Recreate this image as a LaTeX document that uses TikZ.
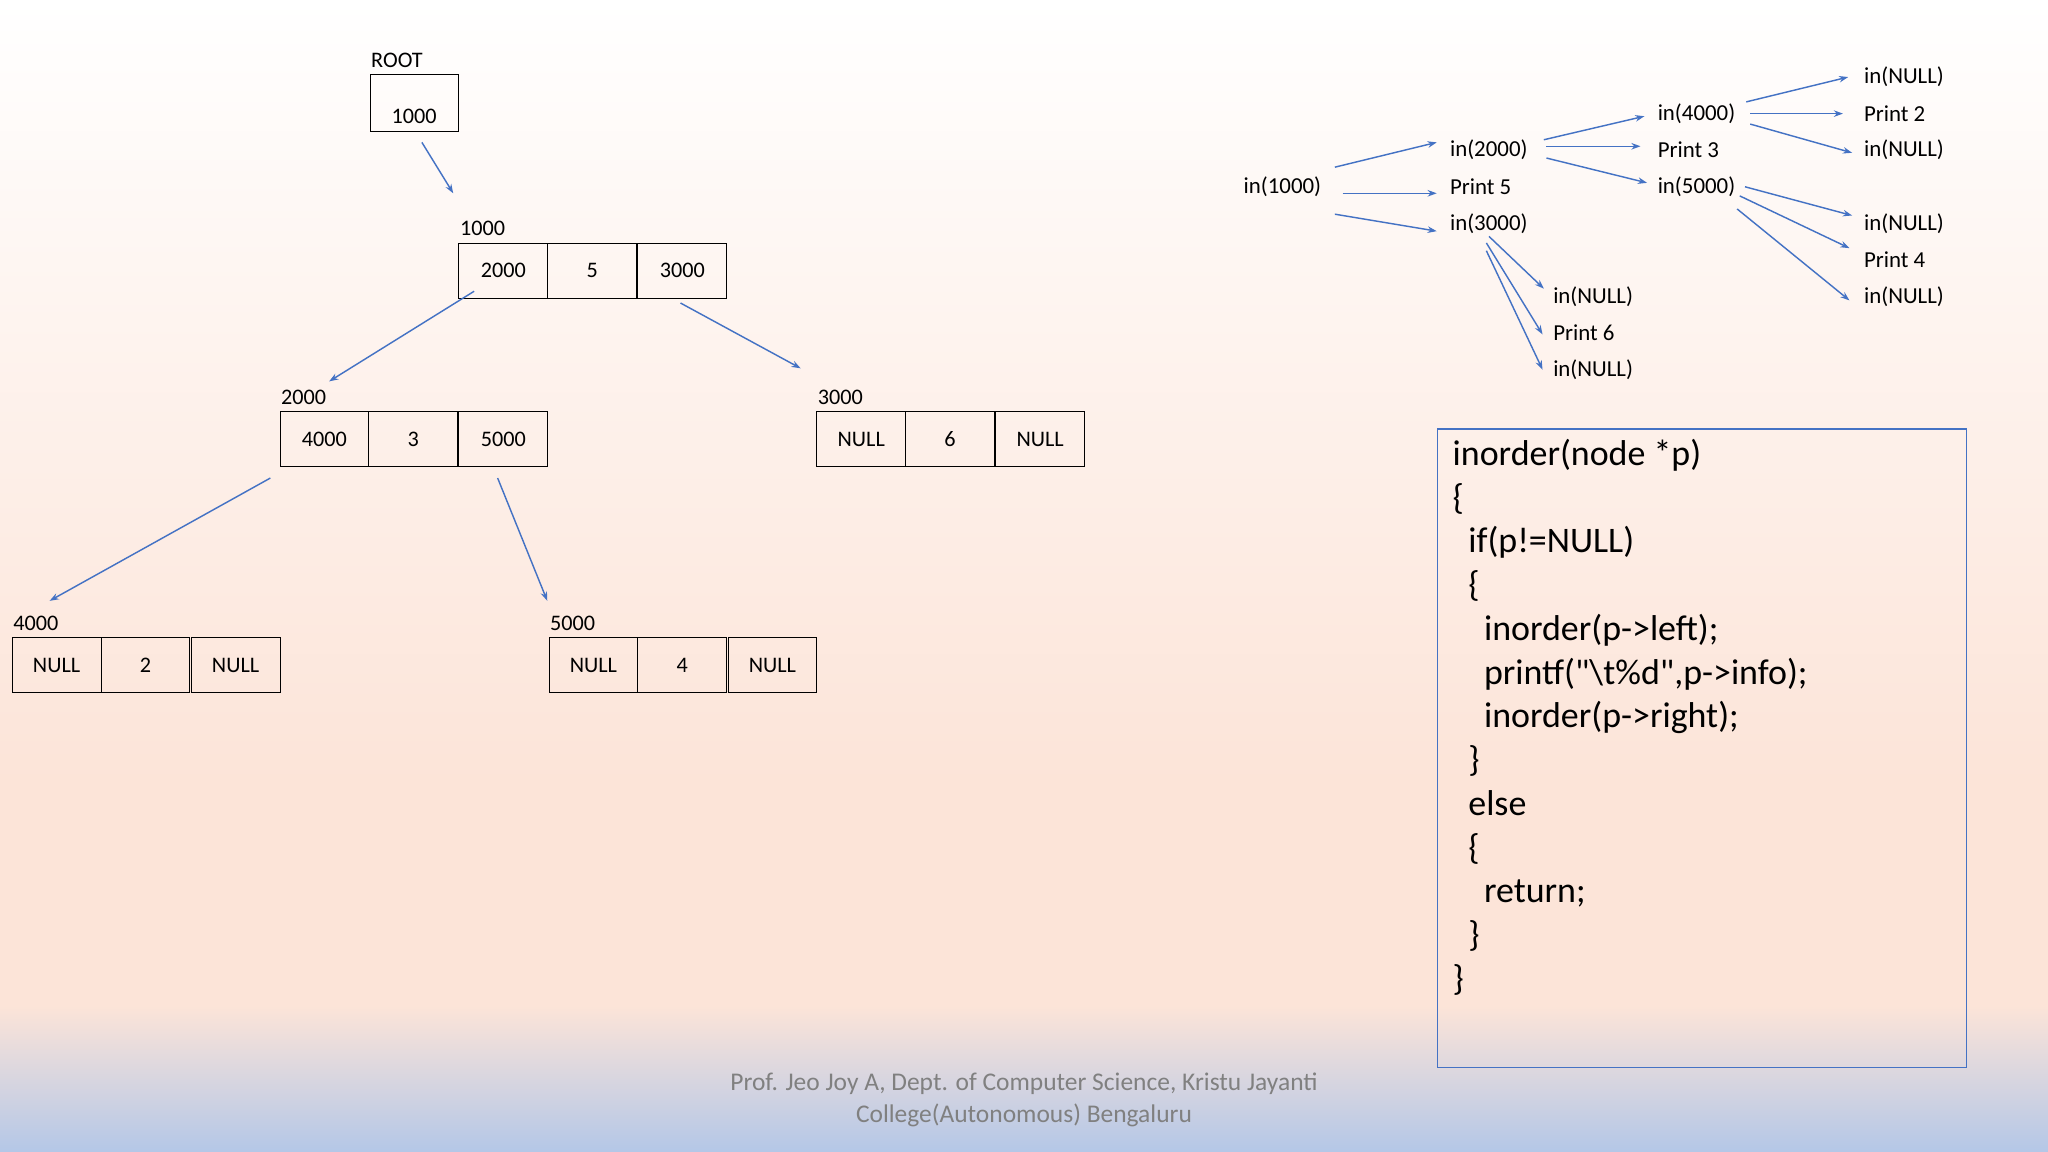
\documentclass[tikz,border=0pt]{standalone}
\usepackage{fontspec}
\setmainfont{Carlito}
\newfontfamily\codefont{Carlito}[Ligatures=TeXOff]
\usetikzlibrary{arrows.meta}
\definecolor{ab}{HTML}{4472C4}
\definecolor{peach}{HTML}{FCE4D8}
\definecolor{bl}{HTML}{B4C7E7}
\begin{document}
\begin{tikzpicture}[x=1pt,y=-1pt,
 arr/.style={ab,line width=1.1pt,-{Stealth[length=7pt,width=5pt]}},
 cell/.style={draw,line width=0.7pt,minimum width=68pt,minimum height=42pt,inner sep=0pt,font=\fontsize{17}{19}\selectfont,anchor=north west},
 lab/.style={anchor=west,inner sep=0pt,font=\fontsize{17}{19}\selectfont},
 tl/.style={anchor=west,inner sep=0pt,font=\fontsize{17.5}{19}\selectfont}]
\useasboundingbox (0,0) rectangle (1568,882);
\shade[top color=white,bottom color=peach] (0,0) rectangle (1568,600);
\fill[peach] (0,600) rectangle (1568,770);
\shade[top color=peach,bottom color=bl] (0,770) rectangle (1568,882);
% root
\node[lab] (rl) at (284,46) {ROOT};
\node[draw,line width=0.7pt,minimum width=68pt,minimum height=43pt,anchor=north west,inner sep=0pt] (root) at (283,57) {};
\node[font=\fontsize{17}{19}\selectfont] (rv) at (317,89) {1000};
% tree nodes
\newcommand{\tnode}[6]{%
 \node[lab] (#1l) at (#2+1,#3-11) {#4};
 \node[cell] (#1a) at (#2,#3) {#5};
 \node[cell] (#1b) at (#2+68,#3) {#6};
}
\tnode{n1}{351}{186}{1000}{2000}{5}\node[cell] (n1c) at (488,186) {3000};
\tnode{n2}{214}{315}{2000}{4000}{3}\node[cell] (n2c) at (351,315) {5000};
\tnode{n3}{625}{315}{3000}{NULL}{6}\node[cell] (n3c) at (762,315) {NULL};
\tnode{n4}{9}{488}{4000}{NULL}{2}\node[cell] (n4c) at (146,488) {NULL};
\tnode{n5}{420}{488}{5000}{NULL}{4}\node[cell] (n5c) at (557,488) {NULL};
\draw[arr] (323,109) -- (347,148);
\draw[arr] (363,223) -- (252,292);
\draw[arr] (521,232) -- (613,282);
\draw[arr] (207,366) -- (38,460);
\draw[arr] (381,366) -- (419,460);
% trace
\node[tl] (t0) at (952,143) {in(1000)};
\node[tl] (t1) at (1110,115) {in(2000)};
\node[tl] (t2) at (1110,143) {Print 5};
\node[tl] (t3) at (1110,171) {in(3000)};
\node[tl] (t4) at (1269,87) {in(4000)};
\node[tl] (t5) at (1269,115) {Print 3};
\node[tl] (t6) at (1269,143) {in(5000)};
\node[tl] (t7) at (1427,59) {in(NULL)};
\node[tl] (t8) at (1427,87) {Print 2};
\node[tl] (t9) at (1427,115) {in(NULL)};
\node[tl] (t10) at (1427,171) {in(NULL)};
\node[tl] (t11) at (1427,199) {Print 4};
\node[tl] (t12) at (1427,227) {in(NULL)};
\node[tl] (t13) at (1189,227) {in(NULL)};
\node[tl] (t14) at (1189,255) {Print 6};
\node[tl] (t15) at (1189,283) {in(NULL)};
\draw[arr] (1022,128) -- (1100,109);
\draw[arr] (1028,148) -- (1100,148);
\draw[arr] (1022,164) -- (1100,177);
\draw[arr] (1182,107) -- (1259,89);
\draw[arr] (1184,112) -- (1256,112);
\draw[arr] (1184,121) -- (1261,140);
\draw[arr] (1337,78) -- (1415,59);
\draw[arr] (1340,87) -- (1411,87);
\draw[arr] (1340,95) -- (1418,117);
\draw[arr] (1336,143) -- (1418,165);
\draw[arr] (1332,150) -- (1416,190);
\draw[arr] (1330,160) -- (1416,230);
\draw[arr] (1140,181) -- (1182,221);
\draw[arr] (1138,186) -- (1181,256);
\draw[arr] (1138,192) -- (1181,283);
% code
\node[draw=ab,line width=1pt,anchor=north west,minimum width=405pt,minimum height=489pt,inner sep=0pt] (cb) at (1100,328) {};
\node[anchor=north west,inner sep=0pt,align=left,font=\codefont\fontsize{27.5}{33.5}\selectfont] (code) at (1112,336) {%
inorder(node *p)\\
\{\\
\hspace*{12pt}if(p!=NULL)\\
\hspace*{12pt}\{\\
\hspace*{24pt}inorder(p->left);\\
\hspace*{24pt}printf("\textbackslash t\%d",p->info);\\
\hspace*{24pt}inorder(p->right);\\
\hspace*{12pt}\}\\
\hspace*{12pt}else\\
\hspace*{12pt}\{\\
\hspace*{24pt}return;\\
\hspace*{12pt}\}\\
\}};
\node[align=center,text=gray,font=\fontsize{19.5}{24}\selectfont] (ft) at (784,842) {Prof. Jeo Joy A, Dept. of Computer Science, Kristu Jayanti\\College(Autonomous) Bengaluru};
\end{tikzpicture}
\end{document}
